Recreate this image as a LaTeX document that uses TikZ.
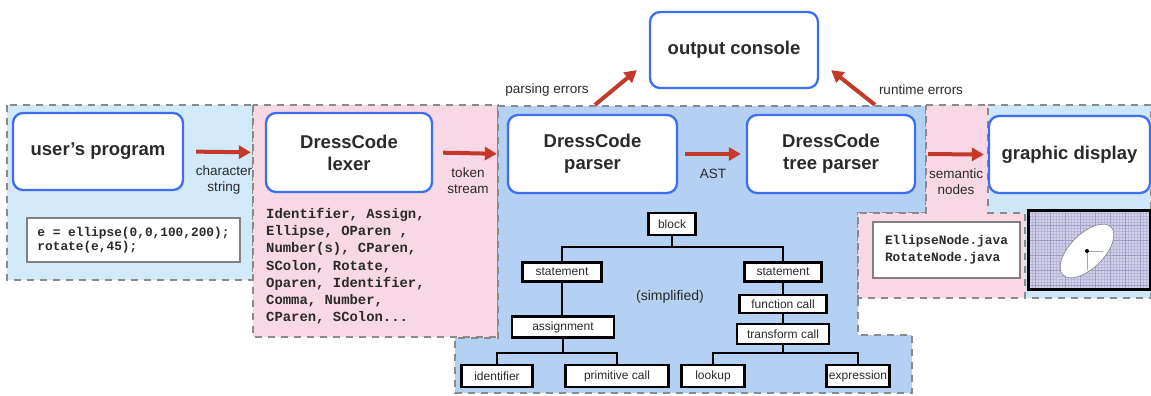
\documentclass[tikz,border=0pt]{standalone}
\usepackage{fontspec}
\setmainfont{Liberation Sans}
\setmonofont{Liberation Mono}
\usetikzlibrary{arrows.meta,calc}
\definecolor{boxblue}{HTML}{3D6EF0}
\definecolor{arrred}{HTML}{C4382A}
\definecolor{dashgray}{HTML}{8A8A8A}
\definecolor{regA}{HTML}{D2EAF8}
\definecolor{regC}{HTML}{B4D0F3}
\definecolor{regE}{HTML}{CDE6F8}
\definecolor{regP}{HTML}{F8D8E4}
\definecolor{txt}{HTML}{2A2A2A}
\definecolor{gridbg}{HTML}{D2D1EA}
\definecolor{gridln}{HTML}{B9B7D8}
\definecolor{gridmj}{HTML}{A09EC6}
\begin{document}
\begin{tikzpicture}[x=1pt,y=-1pt,
  region/.style={draw=dashgray, line width=1.3pt, dash pattern=on 7pt off 6pt},
  mainbox/.style={draw=boxblue, line width=2.3pt, rounded corners=10pt, fill=white,
    font=\fontsize{18.5}{22}\selectfont\bfseries, text=txt, align=center, inner sep=0pt},
  flow/.style={draw=arrred, line width=4pt, -{Triangle[length=12pt,width=13pt]}},
  lbl/.style={font=\fontsize{13.5}{16}\selectfont, text=txt, align=center, inner sep=0pt},
  codebox/.style={draw=gray, line width=1.5pt, fill=white, align=left, text=txt, inner sep=0pt},
  tnode/.style={draw=black, line width=2.4pt, fill=white, font=\fontsize{12}{14}\selectfont,
    text=txt, inner sep=0pt},
  tedge/.style={line width=2.4pt}
]
\useasboundingbox (0,0) rectangle (1151,396);

% regions
\draw[region, fill=regA] (7,105) rectangle (253,280);
\draw[region, fill=regP] (253,105) rectangle (498,337);
\draw[region, fill=regC] (498,106) -- (926,106) -- (926,213) -- (858,213) -- (858,335)
  -- (912,335) -- (912,393) -- (455,393) -- (455,338) -- (498,338) -- cycle;
\draw[region, fill=regE] (988,105) -- (1151,105) -- (1151,298) -- (1025,298) -- (1025,213) -- (988,213) -- cycle;
\draw[region, fill=regP] (926,105) -- (988,105) -- (988,213) -- (1025,213) -- (1025,298)
  -- (858,298) -- (858,213) -- (926,213) -- cycle;

% main boxes
\node[mainbox, minimum width=170pt, minimum height=77pt] (user) at (98,151.5) {user's program};
\node[mainbox, minimum width=166pt, minimum height=79pt] (lexer) at (349,152.5) {DressCode\\lexer};
\node[mainbox, minimum width=169pt, minimum height=78pt] (parser) at (592.5,154) {DressCode\\parser};
\node[mainbox, minimum width=168pt, minimum height=78pt] (tree) at (831,154) {DressCode\\tree parser};
\node[mainbox, minimum width=168pt, minimum height=76pt] (console) at (734,50) {output console};
\node[mainbox, minimum width=161pt, minimum height=77pt] (graphic) at (1069.5,154.5) {graphic display};

% flow arrows
\draw[flow, shorten <=12pt, shorten >=14pt] (user.east) -- (lexer.west);
\draw[flow, shorten <=10pt, shorten >=10pt] (lexer.east) -- (parser.west);
\draw[flow, shorten <=7pt, shorten >=5pt] (parser.east) -- (tree.west);
\draw[flow, shorten <=12pt, shorten >=4pt] (tree.east) -- (graphic.west);
\draw[flow] ($(parser.north)+(2.5,-9)$) -- ($(console.south west)+(-12,-19)$);
\draw[flow] ($(tree.north)+(44,-9)$) -- ($(console.south east)+(12,-19)$);

% labels
\node[lbl] (l1) at (224,180) {character\\string};
\node[lbl] (l2) at (468,181) {token\\stream};
\node[lbl] (l3) at (713,174) {AST};
\node[lbl] (l4) at (956,182) {semantic\\nodes};
\node[lbl] (l5) at (547,90) {parsing errors};
\node[lbl] (l6) at (921,90) {runtime errors};

% code boxes
\node[codebox, minimum width=213pt, minimum height=44pt,
  font=\fontsize{12.8}{13.5}\selectfont\ttfamily\bfseries] (code) at (133.5,240)
  {e = ellipse(0,0,100,200);\\rotate(e,45);};
\node[inner sep=0pt, anchor=north west, align=left, text=txt,
  font=\fontsize{13.9}{17.2}\selectfont\ttfamily\bfseries] (tokens) at (266,208)
  {Identifier, Assign,\\Ellipse, OParen ,\\Number(s), CParen,\\SColon, Rotate,\\Oparen, Identifier,\\Comma, Number,\\CParen, SColon...};
\node[codebox, minimum width=147pt, minimum height=56pt,
  font=\fontsize{12.8}{17}\selectfont\ttfamily\bfseries] (nodes) at (946.5,250)
  {EllipseNode.java\\RotateNode.java};

% graphic screen
\node[fill=gridbg, minimum width=121pt, minimum height=78pt, inner sep=0pt] (screen) at (1089.5,250) {};
\begin{scope}
  \clip (screen.south west) rectangle (screen.north east);
  \draw[gridln, line width=0.2pt, step=3pt] (1020,200) grid (1160,300);
  \draw[gridmj, line width=0.35pt, step=15pt] (1020,200) grid (1160,300);
\end{scope}
\draw[fill=white, draw=gray, line width=0.6pt, rotate around={45:(1087,251)}] (1087,251) ellipse (34pt and 17pt);
\draw[gray!70, line width=0.4pt] (1087,251) -- (1103,251);
\draw[gray!70, line width=0.4pt] (1087,251) -- (1087,270);
\fill[black] (1087,251) circle (2pt);
\draw[line width=3pt] (screen.south west) rectangle (screen.north east);

% tree
\node[tnode, minimum width=47pt, minimum height=22pt] (block) at (672,224) {block};
\node[tnode, minimum width=79pt, minimum height=19pt] (stmtL) at (562,272) {statement};
\node[tnode, minimum width=77pt, minimum height=19pt] (stmtR) at (783,272) {statement};
\node[tnode, minimum width=87pt, minimum height=18pt] (func) at (783,304) {function call};
\node[tnode, minimum width=92pt, minimum height=20pt] (trans) at (783,334) {transform call};
\node[tnode, minimum width=102pt, minimum height=21pt] (assign) at (563,327) {assignment};
\node[tnode, minimum width=71pt, minimum height=22pt] (ident) at (497,376) {identifier};
\node[tnode, minimum width=103pt, minimum height=22pt] (prim) at (617,376) {primitive call};
\node[tnode, minimum width=63pt, minimum height=22pt] (lookup) at (713,376) {lookup};
\node[tnode, minimum width=63pt, minimum height=22pt] (expr) at (858,376) {expression};
\node[font=\fontsize{14}{16}\selectfont, text=txt, inner sep=0pt] (simp) at (670,297) {(simplified)};

\coordinate (j1) at (672,247);
\coordinate (j2) at (563,353);
\coordinate (j3) at (783,353);
\draw[tedge] (block.south) -- (j1);
\draw[tedge] (stmtL.north) |- (j1) -| (stmtR.north);
\draw[tedge] (stmtL.south) -- (stmtL.south |- assign.north);
\draw[tedge] (stmtR.south) -- (stmtR.south |- func.north);
\draw[tedge] (func.south) -- (func.south |- trans.north);
\draw[tedge] (assign.south) -- (j2);
\draw[tedge] (ident.north) |- (j2) -| (prim.north);
\draw[tedge] (trans.south) -- (j3);
\draw[tedge] (lookup.north) |- (j3) -| (expr.north);
\end{tikzpicture}
\end{document}
